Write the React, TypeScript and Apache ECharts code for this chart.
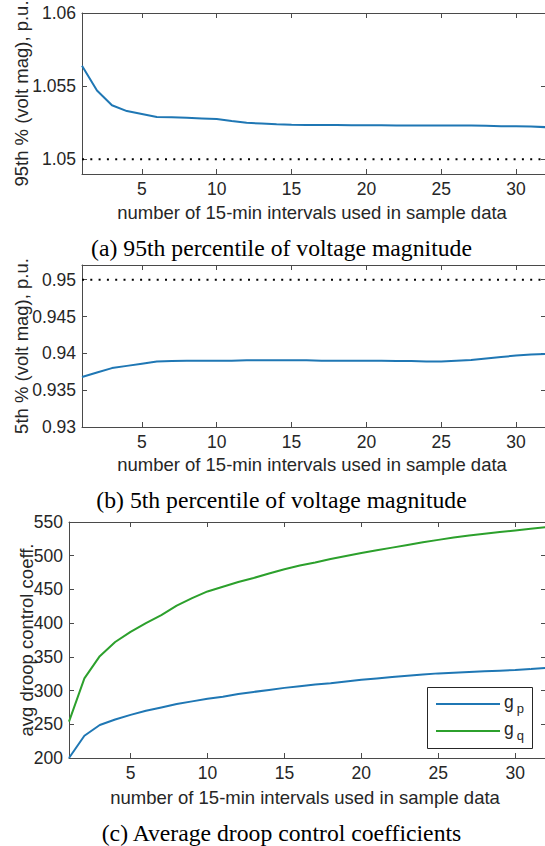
import React, { useEffect, useRef } from "react";
import * as echarts from "echarts";

const intervals = [1, 2, 3, 4, 5, 6, 7, 8, 9, 10, 11, 12, 13, 14, 15, 16, 17, 18, 19, 20, 21, 22, 23, 24, 25, 26, 27, 28, 29, 30, 31, 32];

const p95Volt = [1.0564, 1.0547, 1.0537, 1.0533, 1.0531, 1.0529, 1.05288, 1.05285, 1.0528, 1.05275, 1.05262, 1.0525, 1.05245, 1.0524, 1.05236, 1.05235, 1.05234, 1.05234, 1.05233, 1.05233, 1.05233, 1.05232, 1.05232, 1.05231, 1.05231, 1.05231, 1.05231, 1.05229, 1.05227, 1.05226, 1.05224, 1.0522];

const p5Volt = [0.9368, 0.9374, 0.938, 0.9383, 0.9386, 0.9389, 0.93895, 0.939, 0.939, 0.939, 0.939, 0.93905, 0.93905, 0.93905, 0.93905, 0.93905, 0.939, 0.939, 0.939, 0.939, 0.939, 0.93895, 0.93895, 0.9389, 0.9389, 0.939, 0.9391, 0.9393, 0.9395, 0.9397, 0.93985, 0.9399];

const gp = [200, 233, 249, 257, 264, 270, 275, 280, 284, 288, 291, 295, 298, 301, 304, 306.5, 309, 311, 313.5, 316, 318, 320, 322, 324, 325.5, 326.5, 327.5, 328.5, 329.5, 330.5, 332, 333.5];

const gq = [254, 318, 351, 372, 387, 400, 412, 426, 437, 447, 454, 461, 467, 473.5, 480, 485.5, 490, 495, 499.5, 504, 508, 512, 516, 520, 523.5, 527, 530, 532.5, 535, 537.5, 540, 542.5];

const upperLimit = 1.05;
const lowerLimit = 0.95;

const xTicks = [5, 10, 15, 20, 25, 30];
const yTicksA = [1.05, 1.055, 1.06];
const yTicksB = [0.93, 0.935, 0.94, 0.945, 0.95];

const xLabel = "number of 15-min intervals used in sample data";
const yLabelA = "95th % (volt mag), p.u.";
const yLabelB = "5th % (volt mag), p.u.";
const yLabelC = "avg droop control coeff.";
const captionA = "(a) 95th percentile of voltage magnitude";
const captionB = "(b) 5th percentile of voltage magnitude";
const captionC = "(c) Average droop control coefficients";

const BLUE = "#1f77b4";
const GREEN = "#2ca02c";
const AXIS = "#4a4a4a";
const TXT = "#262626";
const SANS = "'Liberation Sans', Arial, Helvetica, sans-serif";
const SERIF = "'Liberation Serif', 'Times New Roman', serif";
const TICK_FS = 17.5;
const LABEL_FS = 18.5;
const CAP_FS = 23.7;

const grids = [
  { left: 82, top: 13, width: 464, height: 161 },
  { left: 82, top: 265, width: 464, height: 162 },
  { left: 69, top: 522, width: 477, height: 236 },
];

function fmt(v: number) {
  return String(parseFloat(Number(v).toFixed(4)));
}

function xAxesFor(gi: number) {
  const base = {
    type: "value",
    gridIndex: gi,
    min: 1,
    max: 32,
    splitLine: { show: false },
    axisLine: { show: true, lineStyle: { color: AXIS, width: 1 } },
  };
  return [
    {
      ...base,
      position: "bottom",
      axisTick: { show: true, inside: true, length: 5, customValues: xTicks, lineStyle: { color: AXIS } },
      axisLabel: {
        show: true,
        customValues: xTicks,
        margin: 6,
        color: TXT,
        fontFamily: SANS,
        fontSize: TICK_FS,
      },
    },
    {
      ...base,
      position: "top",
      axisTick: { show: true, inside: true, length: 5, customValues: xTicks, lineStyle: { color: AXIS } },
      axisLabel: { show: false },
    },
  ];
}

function yAxesFor(gi: number, min: number, max: number, ticks: number[] | null, interval?: number) {
  const base: any = {
    type: "value",
    gridIndex: gi,
    min,
    max,
    splitLine: { show: false },
    axisLine: { show: true, lineStyle: { color: AXIS, width: 1 } },
  };
  if (interval) base.interval = interval;
  const tickCfg: any = { show: true, inside: true, length: 5, lineStyle: { color: AXIS } };
  const labCfg: any = {
    show: true,
    margin: 6,
    color: TXT,
    fontFamily: SANS,
    fontSize: TICK_FS,
    formatter: (v: number) => fmt(v),
  };
  if (ticks) {
    tickCfg.customValues = ticks;
    labCfg.customValues = ticks;
  }
  return [
    { ...base, position: "left", axisTick: tickCfg, axisLabel: labCfg },
    { ...base, position: "right", axisTick: { ...tickCfg }, axisLabel: { show: false } },
  ];
}

function pairs(ys: number[]) {
  return intervals.map((x, i) => [x, ys[i]]);
}

function text(x: number, y: number, t: string, font: string, size: number, color: string, rot = 0) {
  return {
    type: "text",
    x,
    y,
    rotation: rot,
    silent: true,
    style: {
      text: t,
      fontFamily: font,
      fontSize: size,
      fill: color,
      textAlign: "center",
      textVerticalAlign: "middle",
    },
  };
}

export default function App() {
  const ref = useRef<HTMLDivElement>(null);

  useEffect(() => {
    if (!ref.current) return;
    const chart = echarts.init(ref.current, null, { renderer: "svg" });

    const lineSeries = (name: string, xi: number, yi: number, data: any[], color: string) => ({
      name,
      type: "line",
      xAxisIndex: xi,
      yAxisIndex: yi,
      data,
      showSymbol: false,
      symbol: "none",
      lineStyle: { color, width: 2 },
      itemStyle: { color },
      z: 3,
    });

    const dotted = (xi: number, yi: number, y: number) => ({
      type: "line",
      xAxisIndex: xi,
      yAxisIndex: yi,
      data: [
        [intervals[0], y],
        [intervals[intervals.length - 1], y],
      ],
      showSymbol: false,
      symbol: "none",
      lineStyle: { color: "#000", width: 2, type: [2, 6.3], cap: "butt" },
      z: 2,
    });

    const option: any = {
      animation: false,
      backgroundColor: "#fff",
      grid: grids.map((g) => ({ ...g, containLabel: false })),
      xAxis: [...xAxesFor(0), ...xAxesFor(1), ...xAxesFor(2)],
      yAxis: [
        ...yAxesFor(0, 1.049, 1.06, yTicksA),
        ...yAxesFor(1, 0.93, 0.952, yTicksB),
        ...yAxesFor(2, 200, 550, null, 50),
      ],
      series: [
        dotted(0, 0, upperLimit),
        lineSeries("95th percentile", 0, 0, pairs(p95Volt), BLUE),
        dotted(2, 2, lowerLimit),
        lineSeries("5th percentile", 2, 2, pairs(p5Volt), BLUE),
        lineSeries("g_p", 4, 4, pairs(gp), BLUE),
        lineSeries("g_q", 4, 4, pairs(gq), GREEN),
      ],
      graphic: [
        text(21, 93.5, yLabelA, SANS, LABEL_FS, TXT, Math.PI / 2),
        text(21, 346, yLabelB, SANS, LABEL_FS, TXT, Math.PI / 2),
        text(26, 640, yLabelC, SANS, LABEL_FS, TXT, Math.PI / 2),
        text(312, 212, xLabel, SANS, LABEL_FS, TXT),
        text(312, 464, xLabel, SANS, LABEL_FS, TXT),
        text(305, 797, xLabel, SANS, LABEL_FS, TXT),
        text(281.5, 248, captionA, SERIF, CAP_FS, "#000"),
        text(281.5, 499.5, captionB, SERIF, CAP_FS, "#000"),
        text(281.5, 833, captionC, SERIF, CAP_FS, "#000"),
        {
          type: "rect",
          shape: { x: 427.5, y: 687.5, width: 105, height: 61 },
          style: { fill: "#fff", stroke: TXT, lineWidth: 1 },
          z: 10,
        },
        {
          type: "line",
          shape: { x1: 436, y1: 704, x2: 500, y2: 704 },
          style: { stroke: BLUE, lineWidth: 2 },
          z: 11,
        },
        {
          type: "line",
          shape: { x1: 436, y1: 731, x2: 500, y2: 731 },
          style: { stroke: GREEN, lineWidth: 2 },
          z: 11,
        },
        {
          type: "text",
          x: 504,
          y: 702,
          z: 11,
          style: {
            text: "g{s|p}",
            fontFamily: SANS,
            fontSize: TICK_FS,
            fill: TXT,
            textAlign: "left",
            textVerticalAlign: "middle",
            rich: { s: { fontSize: 13, fontFamily: SANS, fill: TXT, padding: [12, 0, 0, 3] } },
          },
        },
        {
          type: "text",
          x: 504,
          y: 729,
          z: 11,
          style: {
            text: "g{s|q}",
            fontFamily: SANS,
            fontSize: TICK_FS,
            fill: TXT,
            textAlign: "left",
            textVerticalAlign: "middle",
            rich: { s: { fontSize: 13, fontFamily: SANS, fill: TXT, padding: [12, 0, 0, 3] } },
          },
        },
      ],
    };

    chart.setOption(option);
    return () => chart.dispose();
  }, []);

  return (
    <div style={{ position: "fixed", left: 0, top: 0, width: 545, height: 846, overflow: "hidden", background: "#fff" }}>
      <div ref={ref} style={{ width: 560, height: 846 }} />
    </div>
  );
}
